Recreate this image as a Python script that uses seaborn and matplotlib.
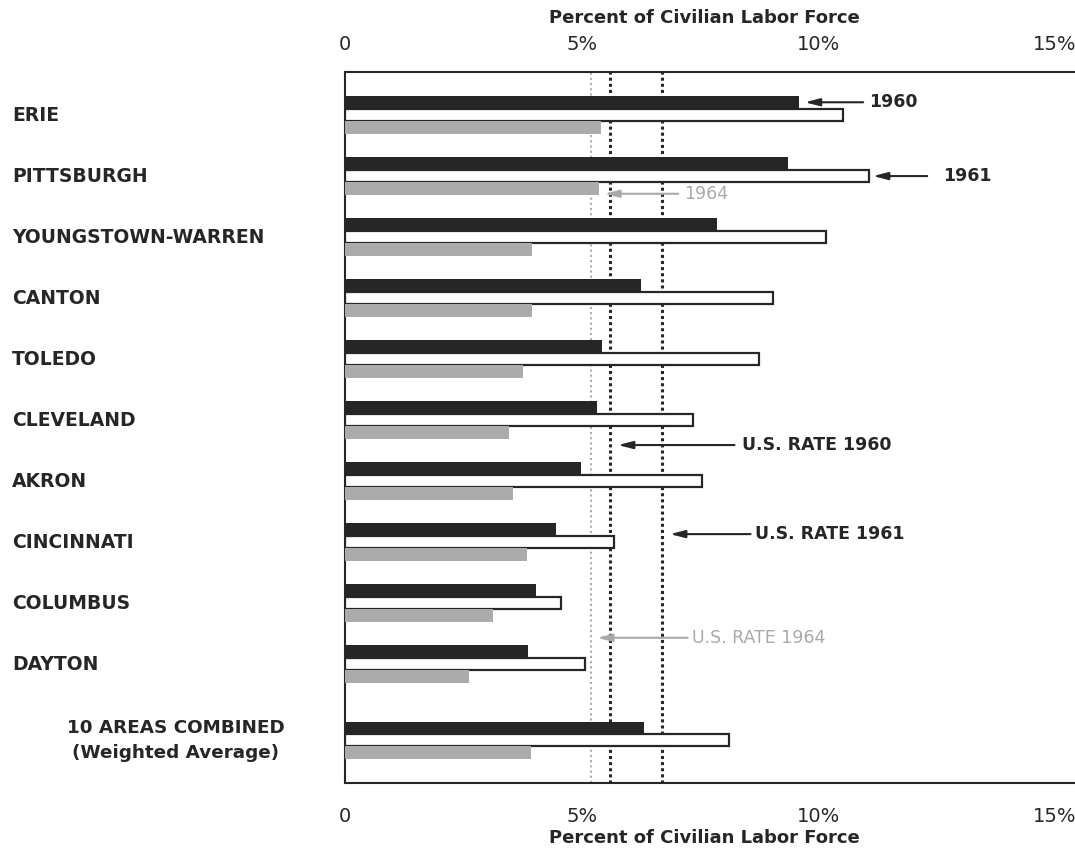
import numpy as np
import pandas as pd
import matplotlib
matplotlib.use("Agg")
import matplotlib.pyplot as plt
import matplotlib.transforms as mtransforms
import seaborn as sns


# ============================================================
# DATA
# ============================================================

AREAS = ["ERIE", "PITTSBURGH", "YOUNGSTOWN-WARREN", "CANTON", "TOLEDO",
         "CLEVELAND", "AKRON", "CINCINNATI", "COLUMBUS", "DAYTON",
         "10 AREAS COMBINED\n(Weighted Average)"]
AREA_POS = [0, 1, 2, 3, 4, 5, 6, 7, 8, 9, 10.25]

YEARS = ["1960", "1961", "1964"]
RATE_1960 = [9.60, 9.37, 7.86, 6.25, 5.43, 5.33, 4.98, 4.45, 4.04, 3.86, 6.31]
RATE_1961 = [10.53, 11.08, 10.16, 9.04, 8.76, 7.35, 7.54, 5.68, 4.57, 5.08, 8.12]
RATE_1964 = [5.42, 5.36, 3.95, 3.95, 3.77, 3.47, 3.56, 3.84, 3.12, 2.63, 3.93]

US_RATE_1960 = 5.6
US_RATE_1961 = 6.7
US_RATE_1964 = 5.2

X_TICKS = [0, 5, 10, 15]
X_TICK_LABELS = ["0", "5%", "10%", "15%"]
AXIS_TITLE = "Percent of Civilian Labor Force"

DARK = "#262626"
GRAY = "#ababab"
GRAY_TEXT = "#a9a9a9"


# ============================================================
# LONG TABLE FOR SEABORN
# ============================================================

rows = []
for year, vals in zip(YEARS, [RATE_1960, RATE_1961, RATE_1964]):
    for pos, v in zip(AREA_POS, vals):
        rows.append({"pos": pos, "rate": v, "year": year})
df = pd.DataFrame(rows)


# ============================================================
# PLOT
# ============================================================

sns.set_theme(style="white")
plt.rcParams["font.family"] = ["DejaVu Sans"]

fig = plt.figure(figsize=(10.75, 8.48), dpi=100)
ax = fig.add_axes([0.321, 0.0767, 0.679, 0.8383])

sns.barplot(data=df, x="rate", y="pos", hue="year", hue_order=YEARS,
            orient="h", native_scale=True, width=0.61, dodge=True,
            palette=[DARK, "white", GRAY], saturation=1,
            errorbar=None, legend=False, ax=ax, zorder=3)

for year, cont in zip(YEARS, ax.containers):
    for bar in cont:
        if year == "1961":
            bar.set_edgecolor(DARK)
            bar.set_linewidth(1.6)
        else:
            bar.set_edgecolor("none")
            bar.set_linewidth(0)

# U.S. reference lines
ax.axvline(US_RATE_1964, color=GRAY, linestyle=(0, (1, 1.5)), lw=1.5, zorder=1)
ax.axvline(US_RATE_1960, color=DARK, linestyle=(0, (1, 1)), lw=2.2, zorder=1)
ax.axvline(US_RATE_1961, color=DARK, linestyle=(0, (1, 1)), lw=2.2, zorder=1)

ax.set_xlim(0, 15.43)
ax.set_ylim(10.95, -0.705)
ax.set_yticks([])
ax.set_xlabel("")
ax.set_ylabel("")

for side in ["top", "left", "bottom"]:
    ax.spines[side].set_color(DARK)
    ax.spines[side].set_linewidth(1.5)
ax.spines["right"].set_visible(False)

# ticks: inward marks at 5 and 10, labels at 0/5/10/15 top and bottom
ax.set_xticks(X_TICKS, labels=X_TICK_LABELS)
ax.set_xticks([5, 10], minor=True)
ax.tick_params(axis="x", which="major", length=0, pad=17,
               labelsize=14, labelcolor=DARK)
ax.tick_params(axis="x", which="minor", direction="in", length=12,
               width=1.3, color=DARK, top=True, bottom=True)
ax.get_xticklabels()[-1].set_x(14.9)

sec = ax.secondary_xaxis("top")
sec.set_xticks(X_TICKS, labels=X_TICK_LABELS)
sec.tick_params(length=0, pad=13, labelsize=14, labelcolor=DARK)
sec.spines["top"].set_visible(False)

fig.text(0.655, 1 - 18 / 848, AXIS_TITLE, ha="center", va="center",
         fontsize=13, fontweight="bold", color=DARK)
fig.text(0.655, 1 - 838 / 848, AXIS_TITLE, ha="center", va="center",
         fontsize=13, fontweight="bold", color=DARK)

# category labels
trans = mtransforms.blended_transform_factory(fig.transFigure, ax.transData)
for pos, name in zip(AREA_POS, AREAS):
    if "\n" in name:
        ax.text(176 / 1075, pos, name, transform=trans, ha="center",
                va="center", multialignment="center", linespacing=1.5,
                fontsize=13.2, fontweight="bold", color=DARK)
    else:
        ax.text(12 / 1075, pos, name, transform=trans, ha="left",
                va="center", fontsize=13.5, fontweight="bold", color=DARK)


# ============================================================
# CALLOUTS
# ============================================================

def callout(text, head, tail, color, weight, gap=2):
    ax.annotate(text, xy=head, xytext=tail, ha="left", va="center",
                fontsize=12.5, fontweight=weight, color=color,
                arrowprops=dict(arrowstyle="-|>,head_length=0.7,head_width=0.18",
                                color=color, lw=1.5, shrinkA=gap, shrinkB=0,
                                relpos=(0, 0.5)),
                zorder=5)

callout("1960", (9.72, -0.21), (11.08, -0.21), DARK, "bold", 2)
callout("1961", (11.16, 1.0), (12.64, 1.0), DARK, "bold", 9)
callout("1964", (5.48, 1.29), (7.17, 1.29), GRAY_TEXT, "normal", 2)
callout("U.S. RATE 1960", (5.77, 5.41), (8.39, 5.41), DARK, "bold", 3)
callout("U.S. RATE 1961", (6.87, 6.87), (8.67, 6.87), DARK, "bold", 1)
callout("U.S. RATE 1964", (5.33, 8.57), (7.34, 8.57), GRAY_TEXT, "normal", 1)

fig.savefig("out.png", dpi=100)
